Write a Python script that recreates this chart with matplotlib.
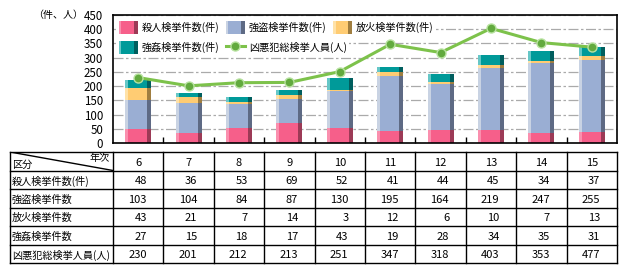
import numpy as np
import matplotlib
matplotlib.use("Agg")
import matplotlib.pyplot as plt
from matplotlib.patches import Patch, Rectangle
from matplotlib.lines import Line2D
from matplotlib.legend_handler import HandlerPatch

plt.rcParams['font.family'] = ['Noto Sans CJK JP', 'DejaVu Sans']

# DATA
years = ['6', '7', '8', '9', '10', '11', '12', '13', '14', '15']
murder = [48, 36, 53, 69, 52, 41, 44, 45, 34, 37]
robbery = [103, 104, 84, 87, 130, 195, 164, 219, 247, 255]
arson = [43, 21, 7, 14, 3, 12, 6, 10, 7, 13]
rape = [27, 15, 18, 17, 43, 19, 28, 34, 35, 31]
# line as drawn in the chart (last point sits near 337)
arrested_line = [230, 201, 212, 213, 251, 347, 318, 403, 353, 337]
# total arrested as printed in the table
arrested_table = [230, 201, 212, 213, 251, 347, 318, 403, 353, 477]

row_labels = ['殺人検挙件数(件)', '強盗検挙件数', '放火検挙件数', '強姦検挙件数', '凶悪犯総検挙人員(人)']
legend_labels = ['殺人検挙件数(件)', '強盗検挙件数(件)', '放火検挙件数(件)', '強姦検挙件数(件)', '凶悪犯総検挙人員(人)']

# (light, main, dark)
shades = {
    'murder': ('#FA8FAE', '#F65F8A', '#9C3A56'),
    'robbery': ('#C9D3E3', '#9AAED3', '#5E6A84'),
    'arson': ('#FFE2A8', '#FFCC73', '#A07E40'),
    'rape': ('#66C7C7', '#009A99', '#005E5E'),
}
green = '#7DC24B'


class ShadedHandler(HandlerPatch):
    def create_artists(self, legend, orig_handle, xdescent, ydescent,
                       width, height, fontsize, trans):
        light, main, dark = orig_handle.shades
        x0, y0 = -xdescent, -ydescent
        arts = []
        for f0, f1, c in [(0, 1, main), (0, 0.15, light), (0.8, 1, dark)]:
            r = Rectangle((x0 + f0 * width, y0), (f1 - f0) * width, height,
                          facecolor=c, edgecolor='none', transform=trans)
            arts.append(r)
        return arts


fig = plt.figure(figsize=(6.3, 2.75), dpi=100)
ax = fig.add_axes([113 / 630, 1 - 143 / 275, 504 / 630, 128 / 275])

x = np.arange(len(years))
w = 0.516
wl = 0.06
wd = 0.08

bottom = np.zeros(len(years))
for key, vals in [('murder', murder), ('robbery', robbery), ('arson', arson), ('rape', rape)]:
    light, main, dark = shades[key]
    vals = np.array(vals)
    ax.bar(x, vals, w, bottom=bottom, color=main, zorder=2)
    ax.bar(x - w / 2 + wl / 2, vals, wl, bottom=bottom, color=light, zorder=2)
    ax.bar(x + w / 2 - wd / 2, vals, wd, bottom=bottom, color=dark, zorder=2)
    bottom += vals

ax.plot(x, arrested_line, color=green, lw=2.2, marker='o', ms=6.5,
        mfc='#62AA3E', mec='#B8E2A0', mew=1.0, zorder=3)

ax.set_xlim(-0.5, 9.5)
ax.set_ylim(0, 450)
ax.set_yticks(np.arange(0, 451, 50))
ax.set_xticks(np.arange(0.5, 9, 1))
ax.tick_params(axis='x', direction='in', length=4, width=1, labelbottom=False)
ax.tick_params(axis='y', length=0, pad=7, labelsize=8.3)
ax.grid(axis='y', color='#AAAAAA', lw=0.9, linestyle=(0, (8, 2, 2, 2)), zorder=0)
ax.set_axisbelow(True)
for s in ax.spines.values():
    s.set_linewidth(1.2)
    s.set_color('black')
ax.text(-0.06, 1.0, '（件、人）', transform=ax.transAxes, ha='right', va='center', fontsize=7.2)

# legend: two rows, each with its own white box
hs = {}
for key, lab in zip(['murder', 'robbery', 'arson', 'rape'], legend_labels[:4]):
    p = Patch(facecolor=shades[key][1], label=lab)
    p.shades = shades[key]
    hs[key] = p
line_h = Line2D([], [], color=green, lw=2.2, marker='o', ms=6.5,
                mfc='#62AA3E', mec='#B8E2A0', mew=1.0, label=legend_labels[4])

leg_kw = dict(loc='upper left', borderaxespad=0, borderpad=0.25, fontsize=7.3,
              handlelength=1.9, handleheight=1.7, handletextpad=0.4,
              columnspacing=0.6, frameon=True, fancybox=False, framealpha=1,
              edgecolor='none', handler_map={Patch: ShadedHandler()})
leg1 = ax.legend(handles=[hs['murder'], hs['robbery'], hs['arson']], ncol=3,
                 bbox_to_anchor=(0.006, (143 - 18) / 128), **leg_kw)
leg1.set_zorder(5)
ax.add_artist(leg1)
leg2 = ax.legend(handles=[hs['rape'], line_h], ncol=2,
                 bbox_to_anchor=(0.006, (143 - 38) / 128), **leg_kw)
leg2.set_zorder(5)

# TABLE
tx = fig.add_axes([10 / 630, 1 - 263 / 275, 607 / 630, 111 / 275])
tx.set_xlim(-2.544, 9.5)
tx.set_ylim(6, 0)
tx.axis('off')
for r in range(7):
    tx.plot([-2.544, 9.5], [r, r], color='black', lw=1, clip_on=False)
tx.plot([-2.544, -2.544], [0, 6], color='black', lw=1, clip_on=False)
for c in range(11):
    tx.plot([c - 0.5, c - 0.5], [0, 6], color='black', lw=1, clip_on=False)
tx.plot([-2.544, -0.5], [0, 1], color='black', lw=1)

tx.text(-2.5, 0.72, '区分', ha='left', va='center', fontsize=7.3)
tx.text(-0.56, 0.35, '年次', ha='right', va='center', fontsize=7.3)
for i, yr in enumerate(years):
    tx.text(i, 0.58, yr, ha='center', va='center', fontsize=8)

rows = [murder, robbery, arson, rape, arrested_table]
for r, (lab, vals) in enumerate(zip(row_labels, rows)):
    tx.text(-2.51, r + 1.58, lab, ha='left', va='center', fontsize=7.3)
    for i, v in enumerate(vals):
        tx.text(i + 0.17, r + 1.58, str(v), ha='right', va='center', fontsize=8)

fig.savefig('out.png', dpi=100)
